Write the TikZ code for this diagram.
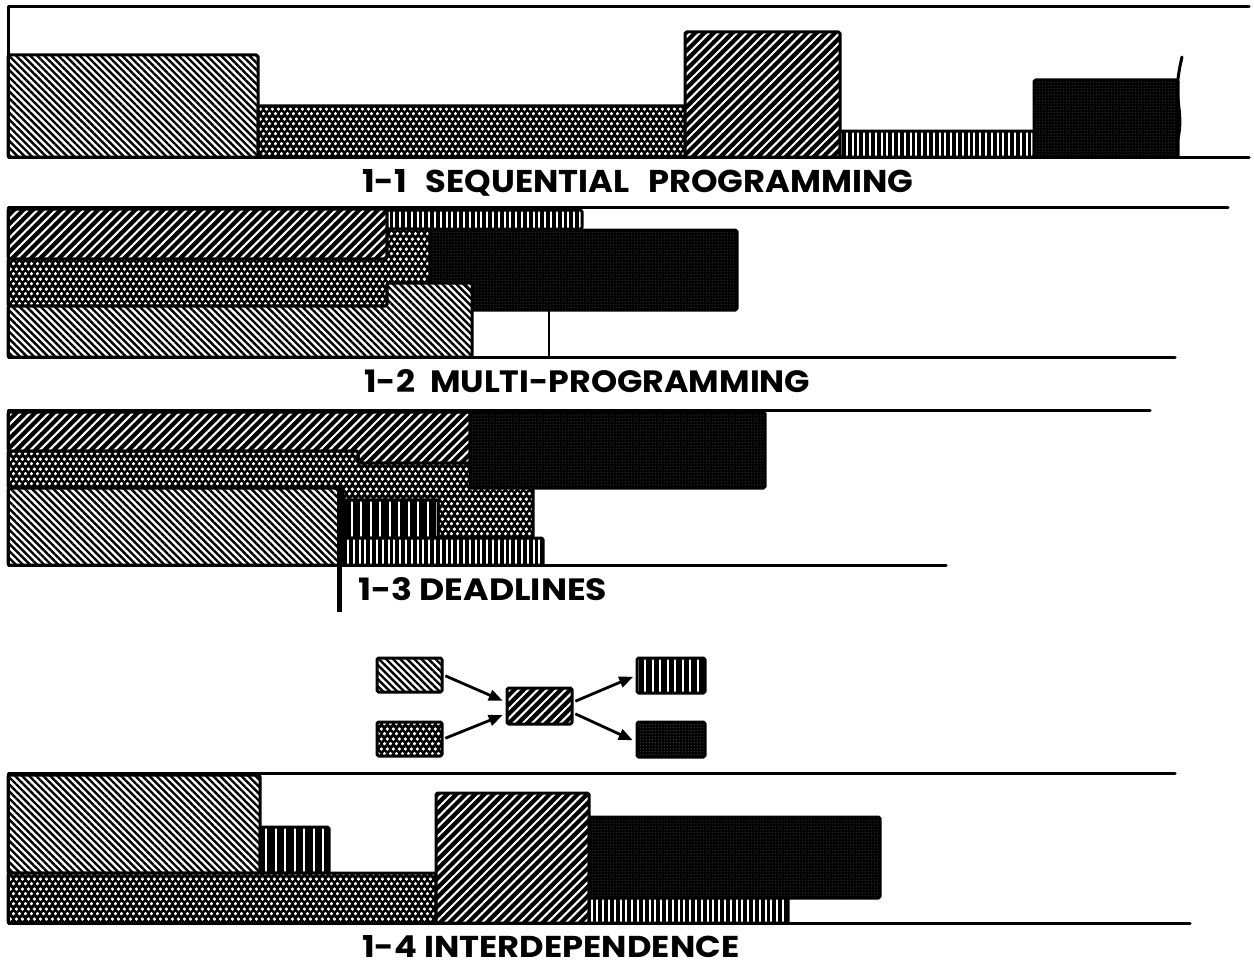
\documentclass[tikz,border=0pt]{standalone}
\usepackage{fontspec}
\usepackage{graphicx}
\usetikzlibrary{patterns,patterns.meta,arrows.meta}
\newfontfamily\capfont{Poppins Bold}

% staggered white dots (job B) and fine speckle (job E)
\pgfdeclarepatternformonly{stagdots}{\pgfpointorigin}{\pgfpoint{6.4pt}{10pt}}{\pgfpoint{6.4pt}{10pt}}{%
  \pgfpathcircle{\pgfpoint{1.6pt}{2.5pt}}{1.95pt}%
  \pgfpathcircle{\pgfpoint{4.8pt}{7.5pt}}{1.95pt}%
  \pgfusepath{fill}}
\pgfdeclarepatternformonly{finedots}{\pgfpointorigin}{\pgfpoint{3pt}{3pt}}{\pgfpoint{3pt}{3pt}}{%
  \pgfpathcircle{\pgfpoint{1.5pt}{1.5pt}}{0.6pt}%
  \pgfusepath{fill}}

\tikzset{
  box/.style={draw=black, line width=3pt, rounded corners=1.5pt, line join=round},
  jobA/.style={box, preaction={fill=white}, pattern={Lines[angle=-45,distance=5pt,line width=2.4pt]}, pattern color=black},
  jobB/.style={box, preaction={fill=black}, pattern=stagdots, pattern color=white},
  jobC/.style={box, preaction={fill=black}, pattern={Lines[angle=45,distance=6.6pt,line width=2.1pt]}, pattern color=white},
  jobD/.style={box, preaction={fill=black}, pattern={Lines[angle=90,distance=#1,line width=2pt]}, pattern color=white},
  jobD/.default=5.8pt,
  jobE/.style={box, preaction={fill=black}, pattern=finedots, pattern color=black!45},
  rule/.style={line width=3pt, line cap=round, line join=round},
  figtitle/.style={anchor=base west, inner sep=0pt, font=\capfont},
  legbox/.style={inner sep=0pt, rounded corners=1.5pt},
  flowarrow/.style={line width=2.8pt, -{Triangle[length=14pt,width=11pt]}, shorten <=2pt, shorten >=3pt}
}

\begin{document}
\begin{tikzpicture}[x=1pt,y=-1pt]
\useasboundingbox (0,0) rectangle (1254,966);
\fill[white] (0,0) rectangle (1254,966);

% ---------- 1-1 sequential programming ----------
\draw[jobA] (8,55) rectangle (258,157);
\draw[jobB] (258,106) rectangle (685,157);
\draw[jobC] (685,32) rectangle (840,157);
\draw[jobD] (840,131) rectangle (1034,157);
\draw[jobE] (1034,80) rectangle (1178,157);
\draw[rule] (1182,57) .. controls (1179,70) and (1176,85) .. (1178,100)
  .. controls (1180,115) and (1181,126) .. (1178,138)
  .. controls (1176,147) and (1176,152) .. (1177,157);
\draw[rule] (1249,7) -- (8,7) -- (8,157) -- (1249,157);
\node[figtitle] (t1) at (362,192) {\resizebox{551pt}{23pt}{1-1\hspace{0.55em}SEQUENTIAL\hspace{0.55em}PROGRAMMING}};

% ---------- 1-2 multi-programming ----------
\draw[jobC] (8,209) rectangle (387,259);
\draw[jobD] (387,210) rectangle (582,229);
\draw[jobB] (8,259) -- (387,259) -- (387,229) -- (430,229) -- (430,283) -- (387,283) -- (387,306) -- (8,306) -- cycle;
\draw[jobE] (430,230) -- (737,230) -- (737,310) -- (472,310) -- (472,283) -- (430,283) -- cycle;
\draw[jobA] (8,306) -- (387,306) -- (387,283) -- (463,283) -- (472,292) -- (472,357) -- (8,357) -- cycle;
\draw[line width=2.5pt] (549,310) -- (549,357);
\draw[rule] (1228,207) -- (8,207) -- (8,357) -- (1175,357);
\node[figtitle] (t2) at (364,392) {\resizebox{446pt}{23pt}{1-2\hspace{0.45em}MULTI-PROGRAMMING}};

% ---------- 1-3 deadlines ----------
\draw[jobC] (8,412) -- (470,412) -- (470,463) -- (358,463) -- (358,451) -- (8,451) -- cycle;
\draw[jobE] (470,412) rectangle (765,488);
\draw[jobB] (8,451) -- (358,451) -- (358,463) -- (470,463) -- (470,488) -- (533,488) -- (533,538)
  -- (438,538) -- (438,500) -- (343,500) -- (343,488) -- (8,488) -- cycle;
\draw[jobA] (8,488) rectangle (340,565);
\draw[jobD=9.5pt] (343,500) rectangle (438,538);
\draw[jobD] (343,538) rectangle (543,565);
\draw[rule] (1150,410) -- (8,410) -- (8,565) -- (946,565);
\draw[line width=5pt] (339,488) -- (339,612);
\node[figtitle] (t3) at (358,600) {\resizebox{249pt}{23pt}{1-3 DEADLINES}};

% ---------- precedence key ----------
\node[jobA, legbox, minimum width=65pt, minimum height=34pt] (la) at (409.5,675) {};
\node[jobB, legbox, minimum width=65pt, minimum height=34pt] (lb) at (409.5,739) {};
\node[jobC, legbox, minimum width=65pt, minimum height=36pt] (lc) at (539.5,706) {};
\node[jobD=7.5pt, legbox, minimum width=68pt, minimum height=35pt] (ld) at (671,675.5) {};
\node[jobE, legbox, minimum width=68pt, minimum height=35pt] (le) at (671,739.5) {};
\draw[flowarrow] (la.east) -- ([yshift=4pt]lc.west);
\draw[flowarrow] (lb.east) -- ([yshift=-8pt]lc.west);
\draw[flowarrow] ([yshift=4pt]lc.east) -- (ld.west);
\draw[flowarrow] ([yshift=-7pt]lc.east) -- ([yshift=-2pt]le.west);

% ---------- 1-4 interdependence ----------
\draw[jobA] (8,775) rectangle (260,873);
\draw[jobD=9.5pt] (260,827) rectangle (329,873);
\draw[jobB] (8,873) rectangle (436,923);
\draw[jobC] (436,793) rectangle (589,923);
\draw[jobE] (589,817) rectangle (880,898);
\draw[jobD] (589,898) rectangle (788,923);
\draw[rule] (1175,773) -- (8,773) -- (8,923) -- (1190,923);
\node[figtitle] (t4) at (362,957) {\resizebox{377pt}{22pt}{1-4 INTERDEPENDENCE}};
\end{tikzpicture}
\end{document}
